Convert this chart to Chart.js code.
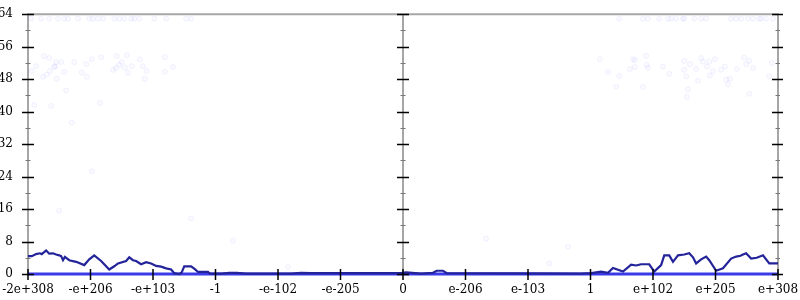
<!DOCTYPE html>
<html>
<head>
<meta charset="utf-8">
<script src="https://cdn.jsdelivr.net/npm/chart.js@4/dist/chart.umd.min.js"></script>
<style>
  html, body { margin: 0; padding: 0; background: #fff; }
  #wrap { width: 800px; height: 300px; }
</style>
</head>
<body>
<div id="wrap"><canvas id="chart"></canvas></div>
<script>
const xTickLabels = ["-2e+308", "-e+206", "-e+103", "-1", "-e-102", "-e-205", "0",
  "e-206", "e-103", "1", "e+102", "e+205", "e+308"]

const lineX = [-6.0, -5.94, -5.87, -5.81, -5.78, -5.71, -5.66, -5.60, -5.55, -5.50,
  -5.47, -5.44, -5.41, -5.34, -5.23, -5.10, -5.02, -4.94, -4.83, -4.70,
  -4.62, -4.56, -4.43, -4.38, -4.32, -4.27, -4.19, -4.11, -4.03, -3.95,
  -3.87, -3.79, -3.71, -3.66, -3.58, -3.54, -3.50, -3.39, -3.33, -3.28,
  -3.12, -3.09, -2.91, -2.78, -2.66, -2.51, -1.79, -1.63, -1.47, -0.03,
  0.05, 0.29, 0.48, 0.54, 0.64, 0.70, 2.85, 3.01, 3.17, 3.28,
  3.36, 3.52, 3.65, 3.73, 3.81, 3.94, 4.02, 4.13, 4.18, 4.26,
  4.32, 4.40, 4.50, 4.58, 4.64, 4.69, 4.77, 4.85, 4.90, 5.01,
  5.12, 5.25, 5.33, 5.40, 5.44, 5.49, 5.57, 5.66, 5.76, 5.86,
  6.0]
const lineY = [4.4, 4.4, 4.9, 5.1, 4.9, 5.8, 5.0, 5.1, 4.8, 4.6,
  4.4, 3.4, 4.2, 3.4, 3.0, 2.2, 3.6, 4.6, 3.2, 1.1,
  1.9, 2.6, 3.2, 4.1, 3.4, 3.2, 2.4, 2.9, 2.6, 2.0,
  1.8, 1.4, 1.1, 0.2, 0.0, 0.4, 1.9, 1.9, 1.2, 0.5,
  0.5, 0.1, 0.1, 0.3, 0.3, 0.1, 0.1, 0.3, 0.2, 0.2,
  0.4, 0.1, 0.3, 0.8, 0.8, 0.2, 0.1, 0.2, 0.6, 0.3,
  1.5, 0.6, 2.3, 2.1, 2.4, 2.4, 0.6, 2.2, 4.6, 4.6,
  3.0, 4.6, 4.8, 5.1, 4.1, 2.6, 3.6, 4.3, 3.4, 0.8,
  1.4, 3.8, 4.3, 4.5, 4.8, 5.1, 3.8, 4.0, 4.6, 2.6,
  2.6]

const zeroX = [-6, 6]
const zeroY = [0, 0]

const dotX = [-5.95, -5.79, -5.66, -5.52, -5.42, -5.36, -5.20, -5.02, -4.96, -4.88,
  -4.80, -4.62, -4.54, -4.46, -4.35, -4.30, -4.22, -3.98, -3.79, -3.47, -3.39,
  3.46, 3.84, 3.92, 4.10, 4.24, 4.29, 4.37, 4.48, 4.50, 4.66,
  4.77, 4.85, 5.25, 5.33, 5.41, 5.52, 5.60, 5.70, 5.73, 5.81, 5.92,
  -5.74, -5.66, -5.87, -5.94, -5.76, -5.70, -5.65, -5.58, -5.57, -5.54,
  -5.47, -5.55, -5.42, -5.39, -5.26, -5.14, -5.07, -5.06, -4.98, -4.83,
  -4.85, -5.63, -5.90, -5.30, -4.64, -4.59, -4.58, -4.54, -4.50, -4.42,
  -4.45, -4.40, -4.34, -4.21, -4.16, -4.10, -4.13, -3.81, -3.81, -3.68,
  3.15, 3.28, 3.46, 3.41, 3.63, 3.68, 3.71, 3.71, 3.89, 3.90,
  3.92, 3.84, 4.16, 4.26, 4.50, 4.50, 4.53, 4.56, 4.54, 4.59,
  4.69, 4.77, 4.80, 4.86, 4.90, 4.91, 4.96, 4.99, 5.09, 5.15,
  5.17, 5.20, 5.23, 5.34, 5.46, 5.49, 5.54, 5.54, 5.60, 5.86,
  5.90, 4.72, -2.72, -1.84, 1.33, 2.64, 2.34, -4.98, -5.50, -3.39]
const dotY = [62.9, 62.9, 62.9, 62.9, 62.9, 62.9, 62.9, 62.9, 62.9, 62.9,
  62.9, 62.9, 62.9, 62.9, 62.9, 62.9, 62.9, 62.9, 62.9, 62.9, 62.9,
  62.9, 62.9, 62.9, 62.9, 62.9, 62.9, 62.9, 62.9, 62.9, 62.9,
  62.9, 62.9, 62.9, 62.9, 62.9, 62.9, 62.9, 62.9, 62.9, 62.9, 62.9,
  53.7, 53.2, 51.2, 50.0, 48.6, 49.1, 50.0, 51.0, 51.2, 48.1,
  52.2, 52.2, 49.8, 45.2, 52.2, 49.6, 51.7, 48.6, 52.9, 53.4,
  42.1, 41.4, 41.6, 37.3, 50.3, 50.8, 53.7, 51.5, 52.2, 53.9,
  50.8, 49.6, 51.2, 52.9, 51.2, 50.0, 48.1, 53.4, 49.8, 51.0,
  52.9, 49.7, 48.8, 46.1, 50.5, 52.9, 52.7, 51.0, 53.7, 51.5,
  50.8, 46.1, 51.1, 49.3, 52.5, 50.3, 48.7, 45.5, 43.6, 51.7,
  50.5, 53.2, 52.3, 51.1, 52.3, 48.9, 50.0, 52.9, 50.3, 51.1,
  47.9, 46.7, 48.1, 50.5, 53.3, 51.7, 52.5, 44.4, 50.8, 48.7,
  52.0, 47.6, 8.2, 1.7, 8.7, 6.7, 2.6, 25.3, 15.6, 13.7]

const yMin = 0
const yMax = 64

const toPoints = (xs, ys) => xs.map((x, i) => ({ x: x, y: ys[i] }))

const font = { family: "'DejaVu Serif', serif", size: 12 }

// gnuplot-ish frame: grey axis lines, ticks crossing the axes
const frame = {
  id: "frame",
  beforeDatasetsDraw(chart) {
    const { ctx, chartArea: a, scales: { x } } = chart
    const mid = x.getPixelForValue(0)
    ctx.save()
    ctx.strokeStyle = "#a6a6a6"
    ctx.lineWidth = 2
    ctx.beginPath()
    ctx.moveTo(a.left, a.bottom)
    ctx.lineTo(a.left, a.top)
    ctx.lineTo(a.right, a.top)
    ctx.lineTo(a.right, a.bottom)
    ctx.moveTo(mid, a.top)
    ctx.lineTo(mid, a.bottom)
    ctx.stroke()
    ctx.restore()
  },
  afterDatasetsDraw(chart) {
    const { ctx, chartArea: a, scales: { x, y } } = chart
    const mid = x.getPixelForValue(0)
    ctx.save()
    for (let v = yMin; v <= yMax; v += 4) {
      const py = Math.round(y.getPixelForValue(v)) + 0.5
      const major = v % 8 === 0
      ctx.strokeStyle = major ? "#000" : "#777"
      ctx.lineWidth = major ? 1.5 : 1
      const h = major ? 6 : 2.5
      ctx.beginPath()
      ctx.moveTo(a.left - h, py); ctx.lineTo(a.left + h, py)
      ctx.moveTo(mid - h, py); ctx.lineTo(mid + h, py)
      ctx.moveTo(a.right - h, py); ctx.lineTo(a.right + (major ? 5 : 2), py)
      ctx.stroke()
    }
    ctx.strokeStyle = "#000"
    ctx.lineWidth = 1.5
    xTickLabels.forEach((_, i) => {
      const px = x.getPixelForValue(i - 6)
      ctx.beginPath()
      ctx.moveTo(px, a.bottom - 5)
      ctx.lineTo(px, a.bottom + 6)
      ctx.stroke()
    })
    ctx.restore()
  }
}

new Chart(document.getElementById("chart"), {
  type: "line",
  data: {
    datasets: [{
      type: "scatter",
      data: toPoints(dotX, dotY),
      pointRadius: 2.5,
      pointBackgroundColor: "rgba(120,120,255,0.04)",
      pointBorderColor: "rgba(120,120,255,0.09)",
      pointBorderWidth: 1,
      order: 3
    }, {
      data: toPoints(zeroX, zeroY),
      borderColor: "#3a3ae8",
      borderWidth: 3,
      pointRadius: 0,
      clip: false,
      order: 2
    }, {
      data: toPoints(lineX, lineY),
      borderColor: "#23239a",
      borderWidth: 2.2,
      pointRadius: 0,
      tension: 0,
      clip: 3,
      order: 1
    }]
  },
  options: {
    responsive: true,
    maintainAspectRatio: false,
    animation: false,
    layout: { padding: { top: 8, right: 22, left: 0, bottom: 0 } },
    plugins: {
      legend: { display: false },
      tooltip: { enabled: false }
    },
    scales: {
      x: {
        type: "linear",
        min: -6,
        max: 6,
        grid: { display: true, drawOnChartArea: false, drawTicks: true, tickLength: 9, tickColor: "rgba(0,0,0,0)" },
        border: { display: false },
        afterFit: (s) => { s.height = 26 },
        ticks: {
          stepSize: 1,
          autoSkip: false,
          maxRotation: 0,
          padding: 0,
          color: "#000",
          font: font,
          callback: (v) => xTickLabels[Math.round(v) + 6]
        }
      },
      y: {
        min: yMin,
        max: yMax,
        grid: { display: false },
        border: { display: false },
        afterFit: (s) => { s.width = 28 },
        ticks: {
          stepSize: 8,
          padding: 7,
          color: "#000",
          font: font
        }
      }
    }
  },
  plugins: [frame]
})
</script>
</body>
</html>
